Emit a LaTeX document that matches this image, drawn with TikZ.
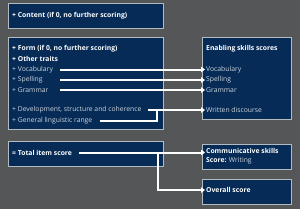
\documentclass[tikz,border=0pt]{standalone}
\usepackage{fontspec}
\setmainfont{Open Sans}
\usetikzlibrary{arrows.meta}
\definecolor{bggray}{RGB}{84,86,88}
\definecolor{navy}{RGB}{6,43,86}
\definecolor{rim}{RGB}{178,186,194}
\begin{document}
\begin{tikzpicture}[
    x=1pt,y=-1pt,
    panel/.style={draw=rim,line width=0.8pt,fill=navy,anchor=north west,inner sep=0pt},
    item/.style={anchor=west,inner sep=1pt,text=white!80!navy,font=\fontsize{6.8}{8}\selectfont},
    head/.style={item,text=white,font=\fontsize{6.8}{8}\selectfont\bfseries},
    conn/.style={draw=white,line width=2pt,-{Triangle[length=4pt,width=5.5pt]}},
    wire/.style={draw=white,line width=2pt}
]
\fill[bggray] (0,0) rectangle (300,209);

% left panels
\node[panel,minimum width=155pt,minimum height=25pt] (content) at (8,3) {};
\node[panel,minimum width=155pt,minimum height=92pt] (form)    at (8,37) {};
\node[panel,minimum width=155pt,minimum height=25pt] (total)   at (8,141) {};
% right panels
\node[panel,minimum width=89pt,minimum height=82pt] (enabling) at (202,37) {};
\node[panel,minimum width=89pt,minimum height=25pt] (comm)     at (202,144) {};
\node[panel,minimum width=89pt,minimum height=25pt] (overall)  at (202,179) {};

\node[head] (cnt)  at (11,15.5) {+ Content (if 0, no further scoring)};
\node[head] (frm)  at (11,49)   {+ Form (if 0, no further scoring)};
\node[head] (oth)  at (11,59)   {+ Other traits};
\node[item] (voc)  at (11,69.5) {+ Vocabulary};
\node[item] (spl)  at (11,80)   {+ Spelling};
\node[item] (grm)  at (11,90)   {+ Grammar};
\node[item] (dev)  at (11,110)  {+ Development, structure and coherence};
\node[item] (gen)  at (11,120.5){+ General linguistic range};
\node[head] (tot)  at (11,153)  {= Total item score};

\node[head] (esk)  at (205,49)  {Enabling skills scores};
\node[item] (evoc) at (205,69.5){Vocabulary};
\node[item] (espl) at (205,80)  {Spelling};
\node[item] (egrm) at (205,90)  {Grammar};
\node[item] (ewri) at (205,110) {Written discourse};
\node[head] (csk)  at (205,151) {Communicative skills};
\node[item] (cwr)  at (205,161) {\textbf{\color{white}Score:} Writing};
\node[head] (ovr)  at (205,190) {Overall score};

\coordinate (vs) at (60,69.5);
\coordinate (ss) at (60,80);
\coordinate (gs) at (60,90);
\coordinate (ds) at (148,110);
\coordinate (gl) at (100,120.5);
\coordinate (gk) at (157,120.5);
\coordinate (gt) at (157,110);
\coordinate (ts) at (79,152.5);
\coordinate (tk) at (158,152.5);
\coordinate (tb) at (158,190);

\draw[conn] (vs) -- (evoc.west);
\draw[conn] (ss) -- (espl.west);
\draw[conn] (gs) -- (egrm.west);
\draw[conn] (ds) -- (ewri.west);
\draw[wire] (gl) -- (gk) -- (gt);
\draw[conn] (ts) -- (ts -| csk.west);
\draw[conn] (tk) -- (tb) -- (ovr.west);
\end{tikzpicture}
\end{document}
